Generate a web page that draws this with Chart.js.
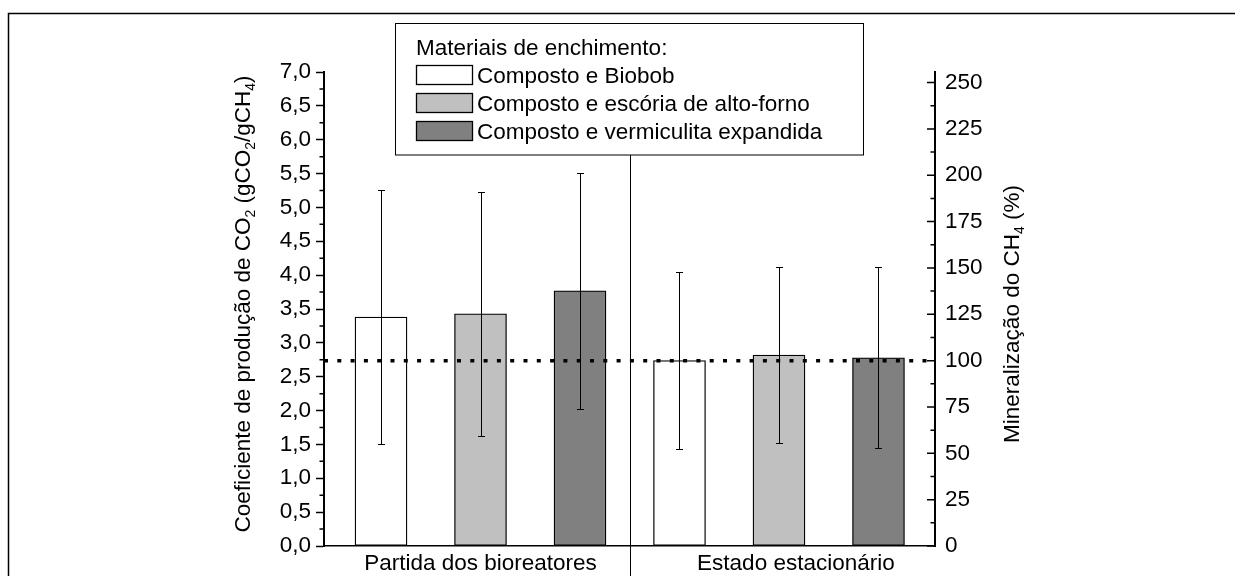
<!DOCTYPE html>
<html>
<head>
<meta charset="utf-8">
<script src="https://cdn.jsdelivr.net/npm/chart.js@4.4.1/dist/chart.umd.min.js"></script>
<style>
  html, body { margin: 0; padding: 0; background: #fff; }
  canvas { display: block; }
</style>
</head>
<body>
<canvas id="chart" width="1235" height="576" style="width:1235px;height:576px"></canvas>
<script>
// Categories (experimental phases) and packing-material series
const groups = ['Partida dos bioreatores', 'Estado estacionário'];
const seriesNames = ['Composto e Biobob', 'Composto e escória de alto-forno', 'Composto e vermiculita expandida'];
const seriesColors = ['#ffffff', '#c0c0c0', '#808080'];

// CO2 production coefficient (gCO2/gCH4): mean and standard deviation per phase
const biobobMean = [3.38, 2.74];
const biobobErr = [1.88, 1.31];
const escoriaMean = [3.43, 2.82];
const escoriaErr = [1.80, 1.30];
const vermiculitaMean = [3.77, 2.78];
const vermiculitaErr = [1.74, 1.34];

// Axis ticks
const leftTicks = [0, 0.5, 1, 1.5, 2, 2.5, 3, 3.5, 4, 4.5, 5, 5.5, 6, 6.5, 7];
const rightTicks = [0, 25, 50, 75, 100, 125, 150, 175, 200, 225, 250];

// Full mineralization reference (right axis, %)
const mineralizationRef = 100;

const legendTitle = 'Materiais de enchimento:';
const leftTitle = [
  { text: 'Coeficiente de produção de CO' }, { text: '2', sub: true },
  { text: ' (gCO' }, { text: '2', sub: true },
  { text: '/gCH' }, { text: '4', sub: true }, { text: ')' }
];
const rightTitle = [
  { text: 'Mineralização do CH' }, { text: '4', sub: true }, { text: ' (%)' }
];

// ---- layout constants ----
const FONT = "'Liberation Sans', Arial, Helvetica, sans-serif";
const FS = 22.5;
const X_MIN = 0.427, X_MAX = 6.568;
const LEFT_MAX = 7, RIGHT_MAX = 255.7;
const categoryTickAt = [2, 5.17];
const slot = (g, s) => g * seriesNames.length + s + 1;

const means = [biobobMean, escoriaMean, vermiculitaMean];
const errs = [biobobErr, escoriaErr, vermiculitaErr];

const datasets = seriesNames.map((name, s) => ({
  type: 'bar',
  label: name,
  data: groups.map((g, gi) => ({ x: slot(gi, s), y: means[s][gi] })),
  errors: errs[s],
  backgroundColor: seriesColors[s],
  borderColor: '#000',
  borderWidth: 1.3,
  borderSkipped: false,
  barThickness: 52,
  grouped: false,
  yAxisID: 'y',
  order: 1
}));
datasets.push({
  type: 'line',
  label: 'ref',
  isReference: true,
  data: [{ x: X_MIN, y: mineralizationRef }, { x: X_MAX, y: mineralizationRef }],
  yAxisID: 'y2',
  borderColor: '#000',
  borderWidth: 3.5,
  borderDash: [4, 9.3],
  borderCapStyle: 'butt',
  pointRadius: 0,
  fill: false,
  order: 0
});

function font(size) { return size + 'px ' + FONT; }

// Outer frame lines
const framePlugin = {
  id: 'frame',
  beforeDraw(chart) {
    const ctx = chart.ctx;
    ctx.save();
    ctx.fillStyle = '#fff';
    ctx.fillRect(0, 0, chart.width, chart.height);
    ctx.strokeStyle = '#000';
    ctx.lineWidth = 1.5;
    ctx.beginPath();
    ctx.moveTo(8.5, chart.height);
    ctx.lineTo(8.5, 13.5);
    ctx.lineTo(chart.width, 13.5);
    ctx.stroke();
    ctx.restore();
  }
};

// Symmetric error bars on each bar
const errorBarPlugin = {
  id: 'errorBars',
  afterDatasetDraw(chart, args) {
    const ds = chart.data.datasets[args.index];
    if (!ds.errors) return;
    const y = chart.scales.y;
    const ctx = chart.ctx;
    ctx.save();
    ctx.strokeStyle = '#000';
    ctx.lineWidth = 1;
    args.meta.data.forEach((bar, i) => {
      const v = ds.data[i].y, e = ds.errors[i];
      const x = Math.round(bar.x) + 0.5;
      const yt = Math.round(y.getPixelForValue(v + e)) + 0.5;
      const yb = Math.round(y.getPixelForValue(v - e)) + 0.5;
      ctx.beginPath();
      ctx.moveTo(x, yt); ctx.lineTo(x, yb);
      ctx.moveTo(x - 3.5, yt); ctx.lineTo(x + 3.5, yt);
      ctx.moveTo(x - 3.5, yb); ctx.lineTo(x + 3.5, yb);
      ctx.stroke();
    });
    ctx.restore();
  }
};

// Minor ticks (both axes) and inward major ticks of the right axis
const axisTickPlugin = {
  id: 'axisTicks',
  afterDraw(chart) {
    const ctx = chart.ctx;
    const y = chart.scales.y, y2 = chart.scales.y2;
    const area = chart.chartArea;
    ctx.save();
    ctx.strokeStyle = '#000';
    ctx.lineWidth = 1.5;
    ctx.beginPath();
    for (let i = 0; i < leftTicks.length - 1; i++) {
      const py = y.getPixelForValue((leftTicks[i] + leftTicks[i + 1]) / 2);
      ctx.moveTo(area.left - 4.5, py); ctx.lineTo(area.left, py);
    }
    rightTicks.forEach(v => {
      const py = y2.getPixelForValue(v);
      ctx.moveTo(area.right - 8, py); ctx.lineTo(area.right, py);
    });
    for (let i = 0; i < rightTicks.length - 1; i++) {
      const py = y2.getPixelForValue((rightTicks[i] + rightTicks[i + 1]) / 2);
      ctx.moveTo(area.right - 4.5, py); ctx.lineTo(area.right, py);
    }
    ctx.stroke();
    ctx.restore();
  }
};

// Rotated axis titles with subscripts
function drawRotatedRich(ctx, parts, cx, cy) {
  const subSize = FS * 0.62;
  ctx.save();
  ctx.translate(cx, cy);
  ctx.rotate(-Math.PI / 2);
  let total = 0;
  parts.forEach(p => { ctx.font = font(p.sub ? subSize : FS); p.w = ctx.measureText(p.text).width; total += p.w; });
  let x = -total / 2;
  ctx.fillStyle = '#000';
  ctx.textBaseline = 'alphabetic';
  ctx.textAlign = 'left';
  parts.forEach(p => {
    ctx.font = font(p.sub ? subSize : FS);
    ctx.fillText(p.text, x, p.sub ? FS * 0.22 : 0);
    x += p.w;
  });
  ctx.restore();
}
const axisTitlePlugin = {
  id: 'axisTitles',
  afterDraw(chart) {
    drawRotatedRich(chart.ctx, leftTitle, 250, 304);
    drawRotatedRich(chart.ctx, rightTitle, 1019, 314);
  }
};

// Phase divider and legend box
const legendPlugin = {
  id: 'boxLegend',
  afterDraw(chart) {
    const ctx = chart.ctx;
    const xs = chart.scales.x;
    const box = { x: 395.5, y: 23.5, w: 468, h: 131.5 };
    const n = seriesNames.length;
    const xDiv = Math.round(xs.getPixelForValue((slot(0, n - 1) + slot(1, 0)) / 2)) + 0.5;
    ctx.save();
    ctx.strokeStyle = '#000';
    ctx.lineWidth = 1;
    ctx.beginPath();
    ctx.moveTo(xDiv, box.y + box.h);
    ctx.lineTo(xDiv, chart.height);
    ctx.stroke();

    ctx.fillStyle = '#fff';
    ctx.fillRect(box.x, box.y, box.w, box.h);
    ctx.strokeRect(box.x, box.y, box.w, box.h);

    ctx.fillStyle = '#000';
    ctx.font = font(FS);
    ctx.textBaseline = 'alphabetic';
    ctx.textAlign = 'left';
    ctx.fillText(legendTitle, 416, 54.5);
    chart.data.datasets.filter(d => !d.isReference).forEach((d, i) => {
      const top = 65.5 + 28 * i;
      ctx.fillStyle = d.backgroundColor;
      ctx.fillRect(416.5, top, 56, 19);
      ctx.lineWidth = 1.3;
      ctx.strokeStyle = '#000';
      ctx.strokeRect(416.5, top, 56, 19);
      ctx.fillStyle = '#000';
      ctx.fillText(d.label, 477, top + 17);
    });
    ctx.restore();
  }
};

new Chart(document.getElementById('chart'), {
  type: 'bar',
  data: { datasets },
  options: {
    responsive: false,
    devicePixelRatio: 1,
    animation: false,
    events: [],
    layout: { padding: { top: 72, left: 0, right: 0, bottom: 0 } },
    plugins: { legend: { display: false }, tooltip: { enabled: false }, title: { display: false } },
    scales: {
      x: {
        type: 'linear',
        position: 'bottom',
        offset: false,
        min: X_MIN,
        max: X_MAX,
        afterBuildTicks: ax => { ax.ticks = categoryTickAt.map(v => ({ value: v })); },
        afterFit: ax => { ax.height = 30; },
        ticks: {
          callback: (v, i) => groups[i],
          autoSkip: false, maxRotation: 0, minRotation: 0,
          font: { family: FONT, size: FS }, color: '#000', padding: 4.5
        },
        grid: { drawOnChartArea: false, drawTicks: false },
        border: { display: true, color: '#000', width: 1.5 }
      },
      y: {
        position: 'left',
        min: 0,
        max: LEFT_MAX,
        afterBuildTicks: ax => { ax.ticks = leftTicks.map(v => ({ value: v })); },
        afterFit: ax => { ax.width = 324; },
        ticks: {
          callback: v => v.toFixed(1).replace('.', ','),
          autoSkip: false,
          font: { family: FONT, size: FS }, color: '#000', padding: 5
        },
        grid: { drawOnChartArea: false, drawTicks: true, tickLength: 8, tickColor: '#000', tickWidth: 1.5 },
        border: { display: true, color: '#000', width: 2 }
      },
      y2: {
        position: 'right',
        min: 0,
        max: RIGHT_MAX,
        afterBuildTicks: ax => { ax.ticks = rightTicks.map(v => ({ value: v })); },
        afterFit: ax => { ax.width = 300; },
        ticks: {
          callback: v => String(v),
          autoSkip: false,
          font: { family: FONT, size: FS }, color: '#000', padding: 10
        },
        grid: { drawOnChartArea: false, drawTicks: false },
        border: { display: true, color: '#000', width: 2 }
      }
    }
  },
  plugins: [framePlugin, errorBarPlugin, axisTickPlugin, axisTitlePlugin, legendPlugin]
});
</script>
</body>
</html>
